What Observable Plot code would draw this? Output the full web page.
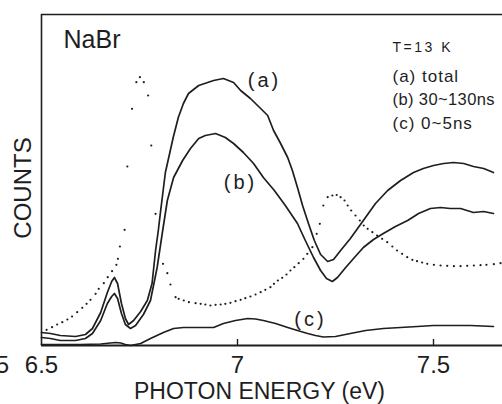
<!DOCTYPE html>
<html><head><meta charset="utf-8">
<script src="https://cdn.jsdelivr.net/npm/d3@7"></script>
<script src="https://cdn.jsdelivr.net/npm/@observablehq/plot@0.6"></script>
<style>body{margin:0;background:#fff} svg{display:block}</style>
</head><body><div id="chart"></div>
<script>
// Photon energy (eV) and counts (arbitrary units)
const energyA = [6.500,6.523,6.548,6.587,6.612,6.630,6.651,6.668,6.679,6.686,6.694,6.704,6.714,6.722,6.735,6.753,6.770,6.782,6.791,6.798,6.804,6.816,6.836,6.849,6.862,6.875,6.901,6.939,6.964,6.990,7.008,7.033,7.059,7.077,7.092,7.110,7.128,7.140,7.153,7.166,7.181,7.196,7.212,7.230,7.245,7.263,7.288,7.321,7.352,7.383,7.416,7.449,7.474,7.500,7.526,7.551,7.577,7.602,7.628,7.653];
const countsA = [13,12,10,9,11,17,33,53,64,68,62,42,27,21,25,34,45,62,95,115,135,173,208,228,242,252,260,265,267,263,255,247,237,230,215,202,188,175,158,140,122,105,91,84,86,95,107,125,142,155,165,173,177,180,182,183,182,179,177,173];

const energyB = [6.500,6.523,6.548,6.587,6.612,6.630,6.651,6.668,6.679,6.686,6.694,6.704,6.714,6.727,6.740,6.760,6.778,6.795,6.808,6.821,6.837,6.860,6.880,6.901,6.918,6.944,6.969,6.990,7.015,7.041,7.066,7.094,7.122,7.153,7.173,7.194,7.212,7.227,7.242,7.255,7.276,7.296,7.321,7.347,7.372,7.403,7.434,7.462,7.492,7.518,7.543,7.569,7.602,7.628,7.653];
const countsB = [8,7,5,5,7,12,25,42,49,52,47,32,21,17,20,31,45,78,112,145,168,185,197,207,210,212,208,202,193,182,168,155,140,122,105,88,75,67,64,68,78,87,98,106,112,119,125,132,137,138,137,137,133,134,132];

const energyC = [6.500,6.548,6.599,6.651,6.676,6.689,6.702,6.714,6.727,6.753,6.778,6.811,6.837,6.862,6.906,6.939,6.964,6.995,7.026,7.046,7.066,7.097,7.128,7.153,7.179,7.199,7.219,7.250,7.288,7.327,7.372,7.416,7.459,7.500,7.543,7.594,7.653];
const countsC = [1,1,1,1.5,2.5,3,2.5,1,0,2,7,13,17,18,18,18,22,25,27,26.5,25,22,18,15,12,10,8.5,9,12,15,17,18,19,20,20,20,19];

// dotted spectrum
const energyD = [6.513,6.527,6.540,6.553,6.566,6.578,6.591,6.604,6.615,6.625,6.638,6.646,6.659,6.669,6.680,6.691,6.695,6.700,6.712,6.719,6.731,6.742,6.751,6.761,6.772,6.780,6.791,6.810,6.821,6.829,6.842,6.850,6.863,6.876,6.893,6.906,6.918,6.931,6.944,6.957,6.969,6.982,6.995,7.008,7.020,7.033,7.046,7.059,7.071,7.084,7.093,7.103,7.114,7.125,7.135,7.145,7.156,7.168,7.178,7.191,7.202,7.210,7.219,7.230,7.242,7.253,7.263,7.273,7.281,7.290,7.301,7.312,7.322,7.332,7.344,7.356,7.369,7.382,7.395,7.407,7.420,7.433,7.446,7.458,7.471,7.484,7.501,7.518,7.535,7.552,7.569,7.586,7.603,7.620,7.635,7.654,7.671];
const countsD = [15.7,18.3,21,23.3,26,29,33.3,37.7,41.7,45.7,51.7,56.7,62.3,68.3,74.3,80.7,86.7,99,115.7,179,236.7,263.3,268.3,263.3,250,200,131.7,81.7,72.3,61,48.3,46.7,45,43.3,42.3,41.7,41,40,40.7,41,41.7,42.7,44.3,45.7,47.3,49,51,53.3,55.7,58.3,61.7,65,67.7,71,75,78.3,82.3,86.7,91.7,98.3,111.7,121.7,140,148.3,150,150.5,148.3,145,140,135,130,125,120,116.7,113.3,110,106.7,103.3,99,95,91.7,88.3,85.7,84.3,83,81.7,80.7,80,79.7,79.3,79.3,79.7,80,80.3,80.7,81.3,82.3];

const xTicks = [6.5, 7, 7.5];
const xTickLabels = ["6.5", "7", "7.5"];
const curveLabels = ["(a)", "(b)", "(c)"];
const legendLines = ["T=13 K", "(a) total", "(b) 30~130ns", "(c) 0~5ns"];
const sampleName = "NaBr";
const xLabel = "PHOTON ENERGY (eV)";
const yLabel = "COUNTS";

const rows = (xs, ys) => xs.map((x, i) => ({x, y: ys[i]}));
const ink = "#1e1e1e";
const font = "'Liberation Sans', Arial, sans-serif";
const T = (txt, o) => Plot.text([txt], {lineAnchor: "middle", textAnchor: "middle", fill: ink, ...o});

const chart = Plot.plot({
  width: 502, height: 404,
  marginLeft: 41, marginRight: 0, marginTop: 14, marginBottom: 59,
  x: {domain: [6.5, 7.676], axis: null},
  y: {domain: [0, 331], axis: null},
  style: {fontFamily: font, background: "#fff", color: ink},
  marks: [
    Plot.ruleX([6.5], {stroke: ink, strokeWidth: 1.6}),
    Plot.ruleY([0], {stroke: ink, strokeWidth: 1.8}),
    Plot.ruleY([331], {stroke: ink, strokeWidth: 1.4}),
    Plot.ruleX(xTicks.slice(1), {y1: 0, y2: 6, stroke: ink, strokeWidth: 1.4}),
    Plot.line(rows(energyA, countsA), {x: "x", y: "y", stroke: ink, strokeWidth: 1.7}),
    Plot.line(rows(energyB, countsB), {x: "x", y: "y", stroke: ink, strokeWidth: 1.7}),
    Plot.line(rows(energyC, countsC), {x: "x", y: "y", stroke: ink, strokeWidth: 1.7}),
    Plot.dot(rows(energyD, countsD), {x: "x", y: "y", r: 1.1, fill: ink, stroke: null}),
    Plot.text(xTicks, {x: d => d, text: (d, i) => xTickLabels[i], frameAnchor: "bottom", lineAnchor: "middle", dy: 19.5, fontSize: 24, fill: ink}),
    T("5", {frameAnchor: "bottom-left", textAnchor: "end", dx: -32.5, dy: 19.5, fontSize: 24}),
    T(xLabel, {frameAnchor: "bottom", dx: -12.5, dy: 46, fontSize: 23}),
    T(yLabel, {frameAnchor: "left", dx: -18.5, dy: 8, rotate: -90, fontSize: 24}),
    T(sampleName, {frameAnchor: "top-left", textAnchor: "start", dx: 22, dy: 25, fontSize: 25}),
    T(curveLabels[0], {frameAnchor: "top-left", dx: 223, dy: 66, fontSize: 20}),
    T(curveLabels[1], {frameAnchor: "top-left", dx: 199, dy: 168, fontSize: 20}),
    T(curveLabels[2], {frameAnchor: "top-left", dx: 269, dy: 305, fontSize: 20}),
    T(legendLines[0], {frameAnchor: "top-left", textAnchor: "start", dx: 351, dy: 32.7, fontSize: 14}),
    T(legendLines[1], {frameAnchor: "top-left", textAnchor: "start", dx: 351, dy: 61.8, fontSize: 17}),
    T(legendLines[2], {frameAnchor: "top-left", textAnchor: "start", dx: 351, dy: 85.5, fontSize: 16.5}),
    T(legendLines[3], {frameAnchor: "top-left", textAnchor: "start", dx: 351, dy: 109.5, fontSize: 17})
  ]
});
// letter spacing to mimic the spaced lettering of the original
d3.select(chart).selectAll("text").style("letter-spacing", function() {
  const t = this.textContent;
  if (t === "(a)" || t === "(b)" || t === "(c)") return "3px";
  if (t === "T=13 K") return "2.5px";
  if (t === "(b) 30~130ns") return "0.4px";
  if (t.startsWith("(")) return "1px";
  return null;
});
document.getElementById("chart").appendChild(chart);
</script>
</body></html>
